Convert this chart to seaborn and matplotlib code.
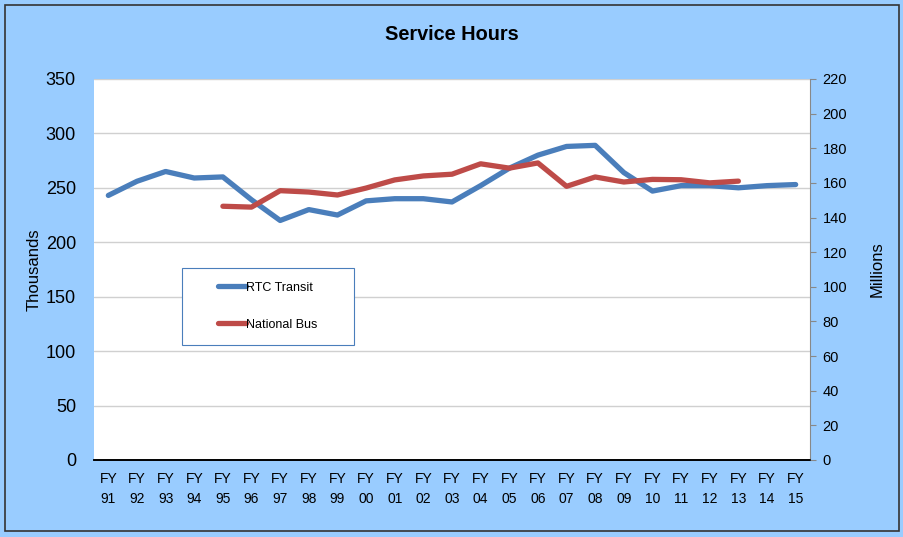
import numpy as np
import pandas as pd
import seaborn as sns
import matplotlib.pyplot as plt
from matplotlib.patches import Rectangle

years = ["91", "92", "93", "94", "95", "96", "97", "98", "99", "00", "01", "02", "03",
         "04", "05", "06", "07", "08", "09", "10", "11", "12", "13", "14", "15"]
rtc_transit = [243, 256, 265, 259, 260, 239, 220, 230, 225, 238, 240, 240, 237,
               252, 268, 280, 288, 289, 264, 247, 252, 252, 250, 252, 253]
# national bus starts at FY95 and ends at FY13 (millions)
national_bus = [np.nan] * 4 + [146.5, 146, 155.5, 154.7, 153, 157, 161.7, 164, 165,
                               171, 168.5, 171.5, 158, 163.4, 160.5, 162, 161.8, 160, 161] + [np.nan] * 2

labels = ["FY\n" + y for y in years]
df = pd.DataFrame({"pos": np.arange(len(years)), "rtc": rtc_transit, "nat": national_bus})

sns.set_style("white")
plt.rcParams['font.family'] = ['Liberation Sans', 'DejaVu Sans']
plt.rcParams['text.color'] = 'black'
plt.rcParams['axes.labelcolor'] = 'black'
plt.rcParams['xtick.color'] = 'black'
plt.rcParams['ytick.color'] = 'black'

fig = plt.figure(figsize=(9.04, 5.37), dpi=100)
fig.patch.set_facecolor('#99CCFF')
fig.patches.append(Rectangle((0.006, 0.011), 0.988, 0.98, transform=fig.transFigure,
                             fill=False, edgecolor='#333333', linewidth=1.2))

ax = fig.add_axes([0.104, 0.1434, 0.792, 0.7096])
ax.set_facecolor('white')
sns.lineplot(data=df, x="pos", y="rtc", ax=ax, color='#4a7ebb', linewidth=3.8,
             label="RTC Transit", legend=False)
ax2 = ax.twinx()
sns.lineplot(data=df, x="pos", y="nat", ax=ax2, color='#be4b48', linewidth=3.8,
             label="National Bus", legend=False)

ax.set_xlim(-0.5, len(years) - 0.5)
ax.set_ylim(0, 350)
ax.set_yticks(range(0, 351, 50))
ax2.set_ylim(0, 220)
ax2.set_yticks(range(0, 221, 20))
ax.set_xticks(df["pos"])
ax.set_xticklabels(labels, fontsize=10, linespacing=1.5)
ax.tick_params(axis='y', labelsize=13, length=0, pad=13)
ax.tick_params(axis='x', length=0, pad=9)
ax2.tick_params(axis='y', labelsize=10.5, length=4, color='#888888', pad=5)

ax.yaxis.grid(True, color='#d0d0d0', linewidth=1)
ax.set_axisbelow(True)

for a in (ax, ax2):
    for s in ('top', 'left', 'right'):
        a.spines[s].set_visible(False)
    a.spines['bottom'].set_color('black')
    a.spines['bottom'].set_linewidth(1.2)
ax2.spines['right'].set_visible(True)
ax2.spines['right'].set_color('#888888')

ax.set_xlabel("")
ax.set_ylabel("Thousands", fontsize=12, labelpad=3)
ax2.set_ylabel("Millions", fontsize=12, labelpad=16)

fig.text(0.5, 0.935, "Service Hours", ha='center', va='center', fontsize=14.3, fontweight='bold')

# legend box drawn separately, entries placed inside it
ax2.add_patch(Rectangle((0.123, 0.302), 0.24, 0.202, transform=ax2.transAxes,
                        facecolor='white', edgecolor='#4a7ebb', linewidth=0.8, zorder=4))
h1, l1 = ax.get_legend_handles_labels()
h2, l2 = ax2.get_legend_handles_labels()
leg = ax2.legend(h1 + h2, l1 + l2, loc='center left', bbox_to_anchor=(0.173, 0.404),
                 fontsize=9, handlelength=2.25, handletextpad=0.0,
                 labelspacing=2.0, borderpad=0, frameon=False, borderaxespad=0)
leg.set_zorder(5)

fig.savefig("out.png", dpi=100, facecolor=fig.get_facecolor())
